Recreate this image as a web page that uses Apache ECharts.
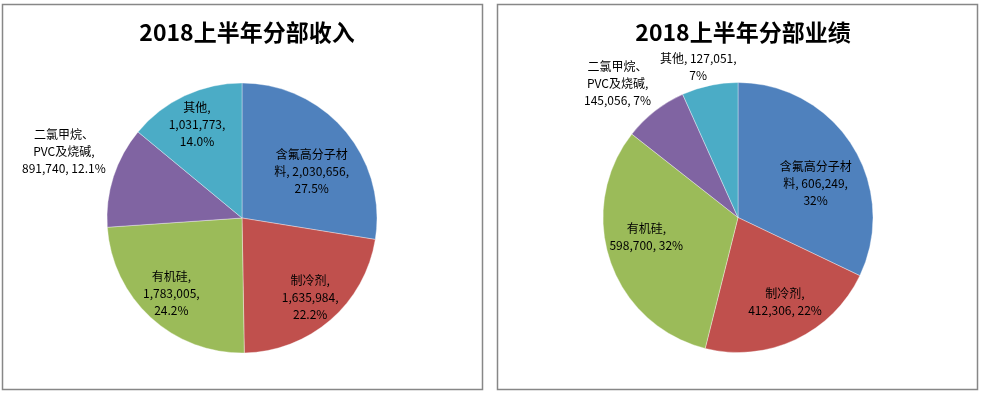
<!DOCTYPE html>
<html>
<head>
<meta charset="utf-8">
<script src="https://cdn.jsdelivr.net/npm/echarts@6/dist/echarts.min.js"></script>
<style>
html,body{margin:0;padding:0;background:#fff;}
#c{width:982px;height:394px;}
</style>
</head>
<body>
<div id="c"></div>
<script>
// ---- data ----
const categories = ['含氟高分子材料', '制冷剂', '有机硅', '二氯甲烷、PVC及烧碱', '其他'];
const revenueValues = [2030656, 1635984, 1783005, 891740, 1031773];
const revenuePct = ['27.5%', '22.2%', '24.2%', '12.1%', '14.0%'];
const profitValues = [606249, 412306, 598700, 145056, 127051];
const profitPct = ['32%', '22%', '32%', '7%', '7%'];
const titles = ['2018上半年分部收入', '2018上半年分部业绩'];

// label text layouts ({n}=name, {v}=value, {p}=percent)
const leftLabelTpl = ['含氟高分子材\n料, {v},\n{p}', '{n},\n{v},\n{p}', '{n},\n{v},\n{p}', '二氯甲烷、\nPVC及烧碱,\n{v}, {p}', '{n},\n{v},\n{p}'];
const rightLabelTpl = ['含氟高分子材\n料, {v},\n{p}', '{n},\n{v}, {p}', '{n},\n{v}, {p}', '二氯甲烷、\nPVC及烧碱,\n{v}, {p}', '{n}, {v},\n{p}'];
const leftOffsets = [[16, -1], [22, 26], [-23, 24], [-111, -45], [-15, -30]];
const rightOffsets = [[18, 4], [17, 21], [-25, -3], [-77, -79], [-25, -82]];

const colors = ['#4F81BD', '#C0504D', '#9BBB59', '#8064A2', '#4BACC6'];
const FONT = '"Noto Sans CJK SC", "Noto Sans", sans-serif';

function fmtNum(v) { return v.toLocaleString('en-US'); }

function buildData(values, pct, tpl, offsets) {
  return categories.map((n, i) => ({
    name: n,
    value: values[i],
    label: {
      formatter: tpl[i].replace('{n}', n).replace('{v}', fmtNum(values[i])).replace('{p}', pct[i]),
      offset: offsets[i]
    }
  }));
}

function pieSeries(center, data) {
  return {
    type: 'pie',
    center: center,
    radius: [0, 135],
    startAngle: 90,
    clockwise: true,
    avoidLabelOverlap: false,
    animation: false,
    silent: true,
    itemStyle: { borderColor: 'rgba(255,255,255,0.6)', borderWidth: 0.6 },
    label: {
      show: true,
      position: 'inside',
      color: '#000',
      fontSize: 12,
      lineHeight: 17,
      fontFamily: FONT,
      align: 'center'
    },
    labelLine: { show: false },
    data: data
  };
}

const chart = echarts.init(document.getElementById('c'), null, { renderer: 'canvas' });
chart.setOption({
  color: colors,
  animation: false,
  title: [
    { text: titles[0], left: 242, top: 16, textAlign: 'center',
      textStyle: { fontSize: 23, fontWeight: 'bold', color: '#000', fontFamily: FONT } },
    { text: titles[1], left: 738, top: 16, textAlign: 'center',
      textStyle: { fontSize: 23, fontWeight: 'bold', color: '#000', fontFamily: FONT } }
  ],
  graphic: [
    { type: 'rect', shape: { x: 2.5, y: 4.5, width: 480, height: 385 },
      style: { fill: 'none', stroke: '#878787', lineWidth: 1.5 }, silent: true },
    { type: 'rect', shape: { x: 497.5, y: 4.5, width: 480, height: 385 },
      style: { fill: 'none', stroke: '#878787', lineWidth: 1.5 }, silent: true }
  ],
  series: [
    pieSeries([242, 218], buildData(revenueValues, revenuePct, leftLabelTpl, leftOffsets)),
    pieSeries([738, 217.5], buildData(profitValues, profitPct, rightLabelTpl, rightOffsets))
  ]
});
</script>
</body>
</html>
